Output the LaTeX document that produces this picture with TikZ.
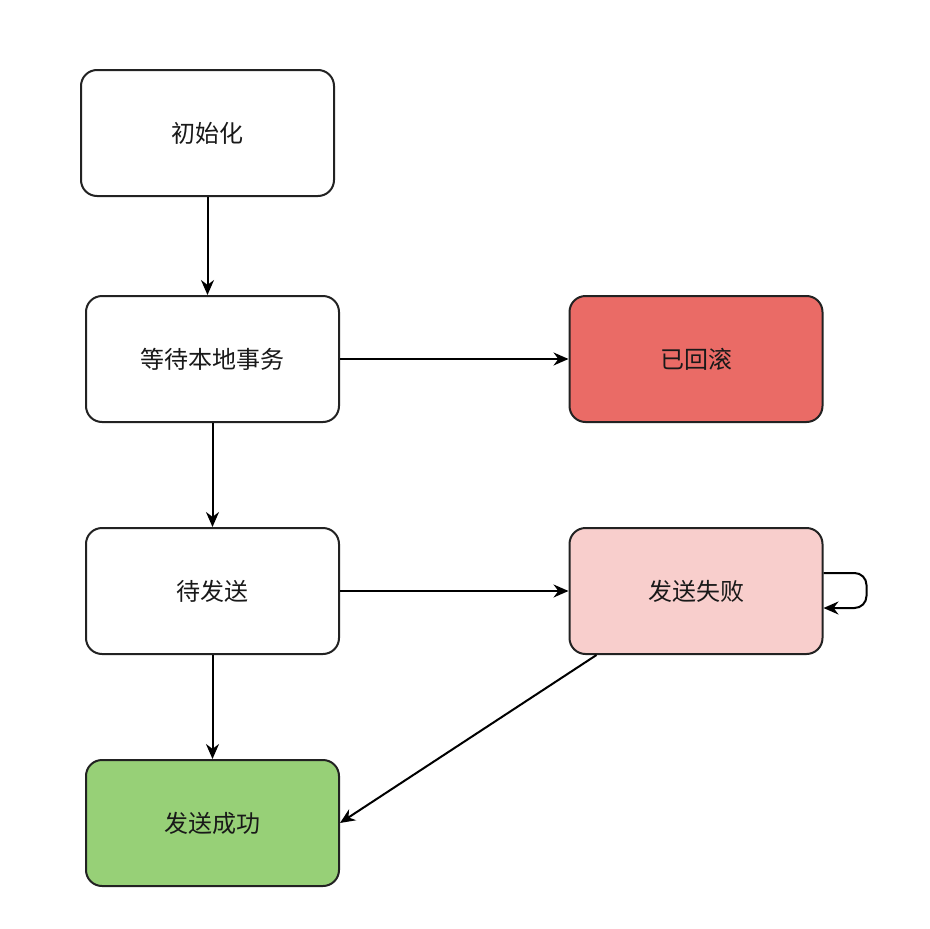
\documentclass[tikz,border=0pt]{standalone}
\usepackage{fontspec}
\setmainfont{Noto Sans CJK SC}
\usetikzlibrary{arrows.meta}
\definecolor{redfill}{HTML}{EA6B66}
\definecolor{pinkfill}{HTML}{F8CECC}
\definecolor{greenfill}{HTML}{97D077}
\definecolor{edge}{HTML}{222222}
\tikzset{
  statebox/.style={draw=edge, line width=2pt, rounded corners=16pt, minimum width=253pt, minimum height=126pt, inner sep=0pt, font=\fontsize{24pt}{28pt}\selectfont, text=black!90},
  arr/.style={draw=black, line width=2pt, -{Stealth[length=15pt,width=13pt]}}
}
\begin{document}
\begin{tikzpicture}[x=1pt,y=-1pt]
\useasboundingbox (0,0) rectangle (930,929);
\node[statebox, fill=white] (init) at (207.5,133) {初始化};
\node[statebox, fill=white] (wait) at (212.5,359) {等待本地事务};
\node[statebox, fill=redfill] (rb) at (696,359) {已回滚};
\node[statebox, fill=white] (pend) at (212.5,591) {待发送};
\node[statebox, fill=pinkfill] (fail) at (696,591) {发送失败};
\node[statebox, fill=greenfill] (ok) at (212.5,823) {发送成功};
\draw[arr] (init.south) -- (init.south |- wait.north);
\draw[arr] (wait.east) -- (rb.west);
\draw[arr] (wait.south) -- (pend.north);
\draw[arr] (pend.east) -- (fail.west);
\draw[arr] (pend.south) -- (ok.north);
\draw[arr] ([xshift=28pt]fail.south west) -- (ok.east);
\draw[arr, rounded corners=12pt] ([yshift=18pt]fail.east) -- ++(43pt,0) -- ++(0,-35pt) -- ([yshift=-17pt]fail.east);
\end{tikzpicture}
\end{document}
